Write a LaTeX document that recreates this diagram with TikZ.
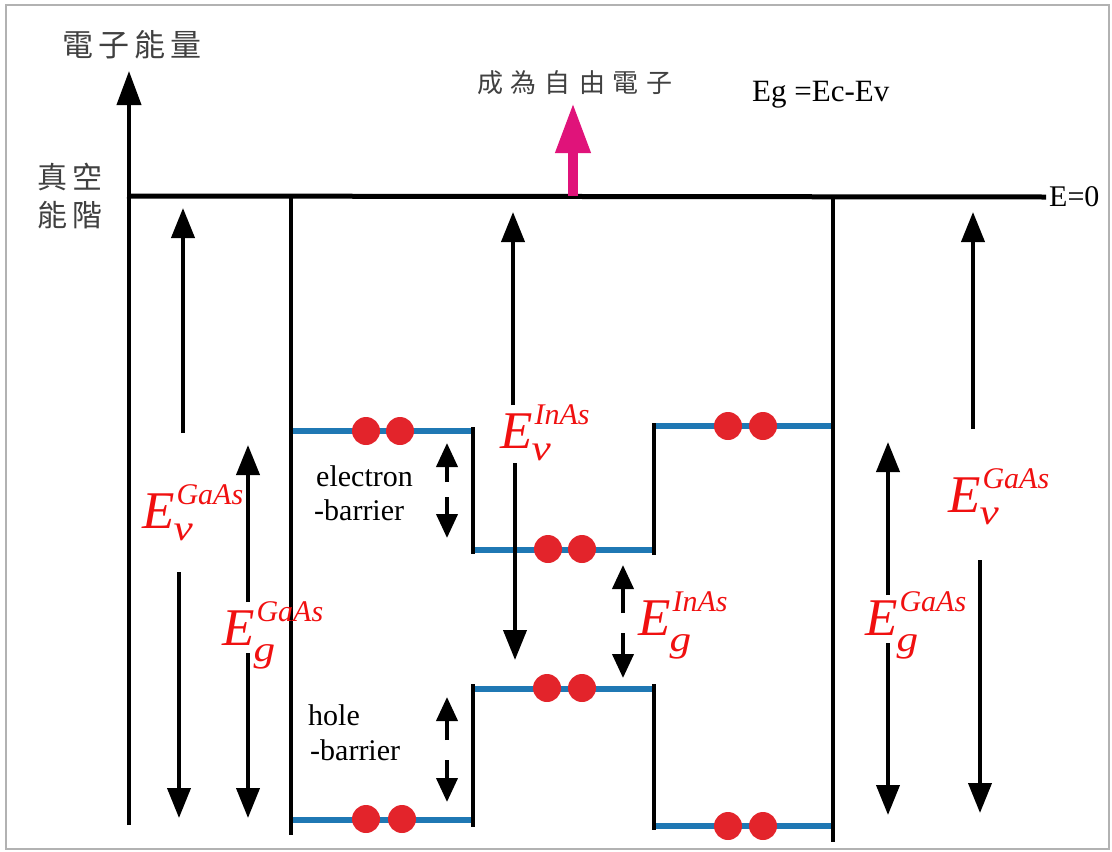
\documentclass[tikz,border=0pt]{standalone}
\usepackage{fontspec}
\usepackage{graphicx}
\setmainfont{Liberation Serif}
\newfontfamily\cjk{Noto Sans CJK TC}
\usetikzlibrary{arrows.meta}
\definecolor{lvlblue}{HTML}{1F78B4}
\definecolor{dotred}{HTML}{E3242B}
\definecolor{lblred}{HTML}{F01010}
\definecolor{pinkarr}{HTML}{E0137A}
\newcommand{\Elab}[3]{%
 {\fontsize{53}{53}\selectfont E}%
 \rlap{\kern-1pt\raisebox{-#1pt}{\fontsize{36}{36}\selectfont\scalebox{1.2}[1]{#2}}}%
 \kern2pt\raisebox{24pt}{\fontsize{30}{30}\selectfont #3}}
\tikzset{
  elab/.style={inner sep=0pt, anchor=base west, text=lblred, font=\itshape},
  btext/.style={inner sep=0pt, anchor=base west, font=\fontsize{30}{30}\selectfont},
  cjktext/.style={inner sep=0pt, text=black!75},
  bigarr/.style={line width=4pt, -{Triangle[length=30pt,width=23pt]}},
  smallarr/.style={line width=4pt, -{Triangle[length=24pt,width=21pt]}},
  wall/.style={line width=4pt},
  level/.style={line width=6pt, lvlblue},
  dot/.style={circle, fill=dotred, minimum size=28pt, inner sep=0pt}
}
\begin{document}
\begin{tikzpicture}[x=1pt,y=-1pt]
\useasboundingbox (0,0) rectangle (1112,852);
\draw[gray!60, line width=1.5pt] (6,5) rectangle (1109,849);

% axis
\coordinate (ax0) at (129,825);
\coordinate (axtop) at (129,71);
\draw[line width=4pt, -{Triangle[length=34pt,width=24pt]}] (ax0) -- (axtop);
\node[cjktext, font=\cjk\fontsize{31}{31}\selectfont] (ylab) at (132,45) {電\kern5pt子\kern5pt能\kern5pt量};
\node[cjktext, font=\cjk\fontsize{30}{30}\selectfont] (vac1) at (70,177) {真\kern6pt空};
\node[cjktext, font=\cjk\fontsize{30}{30}\selectfont] (vac2) at (70,215) {能\kern6pt階};

% vacuum level
\coordinate (v0) at (127,196);
\node[inner sep=0pt, anchor=west, font=\fontsize{30}{30}\selectfont] (ezero) at (1049,197) {E=0};
\draw[line width=5pt] (v0) -- ([xshift=-3pt]ezero.west);

% free electron
\node[cjktext, font=\cjk\fontsize{26}{26}\selectfont] (free) at (575,83) {成\kern8pt為\kern8pt自\kern8pt由\kern8pt電\kern8pt子};
\coordinate (p0) at (573,196);
\coordinate (p1) at (573,103);
\draw[line width=10pt, pinkarr, -{Triangle[length=50pt,width=33pt]}] (p0) -- (p1);
\node[inner sep=0pt, anchor=base west, font=\fontsize{31}{31}\selectfont] (egdef) at (752,101) {Eg =Ec-Ev};

% walls
\coordinate (wL0) at (291,196); \coordinate (wL1) at (291,835);
\coordinate (wR0) at (833,196); \coordinate (wR1) at (833,842);
\draw[wall] (wL0) -- (wL1);
\draw[wall] (wR0) -- (wR1);
\coordinate (m1a) at (473,427); \coordinate (m1b) at (473,554);
\coordinate (m2a) at (654,423); \coordinate (m2b) at (654,555);
\coordinate (m3a) at (473,684); \coordinate (m3b) at (473,827);
\coordinate (m4a) at (654,684); \coordinate (m4b) at (654,830);
\draw[wall] (m1a) -- (m1b);
\draw[wall] (m2a) -- (m2b);
\draw[wall] (m3a) -- (m3b);
\draw[wall] (m4a) -- (m4b);

% levels
\coordinate (l1a) at (293,431); \coordinate (l1b) at (471,431);
\coordinate (l2a) at (475,550); \coordinate (l2b) at (652,550);
\coordinate (l3a) at (656,426); \coordinate (l3b) at (831,426);
\coordinate (l4a) at (475,689); \coordinate (l4b) at (652,689);
\coordinate (l5a) at (293,820); \coordinate (l5b) at (471,820);
\coordinate (l6a) at (656,826); \coordinate (l6b) at (831,826);
\draw[level] (l1a) -- (l1b);
\draw[level] (l2a) -- (l2b);
\draw[level] (l3a) -- (l3b);
\draw[level] (l4a) -- (l4b);
\draw[level] (l5a) -- (l5b);
\draw[level] (l6a) -- (l6b);

% dots
\node[dot] (d1) at (366,431) {}; \node[dot] (d2) at (400,431) {};
\node[dot] (d3) at (548,549) {}; \node[dot] (d4) at (582,549) {};
\node[dot] (d5) at (728,426) {}; \node[dot] (d6) at (763,426) {};
\node[dot] (d7) at (547,688) {}; \node[dot] (d8) at (582,688) {};
\node[dot] (d9) at (366,819) {}; \node[dot] (d10) at (402,819) {};
\node[dot] (d11) at (728,826) {}; \node[dot] (d12) at (763,826) {};

% red labels
\node[elab] (evL) at (142,528) {\Elab{12}{v}{GaAs}};
\node[elab] (egL) at (222,645) {\Elab{16}{g}{GaAs}};
\node[elab] (evM) at (500,448) {\Elab{12}{v}{InAs}};
\node[elab] (egM) at (638,635) {\Elab{16}{g}{InAs}};
\node[elab] (egR) at (865,635) {\Elab{16}{g}{GaAs}};
\node[elab] (evR) at (948,512) {\Elab{12}{v}{GaAs}};

% black labels
\node[btext] (eb1) at (316,486) {electron};
\node[btext] (eb2) at (314,520) {-barrier};
\node[btext] (hb1) at (308,725) {hole};
\node[btext] (hb2) at (310,760) {-barrier};

% arrows
\coordinate (evLu0) at (183,433); \coordinate (evLu1) at (183,208);
\coordinate (evLd0) at (179,572); \coordinate (evLd1) at (179,818);
\draw[bigarr] (evLu0) -- (evLu1);
\draw[bigarr] (evLd0) -- (evLd1);
\coordinate (egLu0) at (248,602); \coordinate (egLu1) at (248,445);
\coordinate (egLd0) at (248,653); \coordinate (egLd1) at (248,818);
\draw[bigarr] (egLu0) -- (egLu1);
\draw[bigarr] (egLd0) -- (egLd1);
\coordinate (ebu0) at (447,482); \coordinate (ebu1) at (447,443);
\coordinate (ebd0) at (447,497); \coordinate (ebd1) at (447,538);
\draw[smallarr] (ebu0) -- (ebu1);
\draw[smallarr] (ebd0) -- (ebd1);
\coordinate (evMu0) at (513,405); \coordinate (evMu1) at (513,212);
\coordinate (evMd0) at (515,463); \coordinate (evMd1) at (515,660);
\draw[bigarr] (evMu0) -- (evMu1);
\draw[bigarr] (evMd0) -- (evMd1);
\coordinate (egMu0) at (623,613); \coordinate (egMu1) at (623,565);
\coordinate (egMd0) at (623,633); \coordinate (egMd1) at (623,678);
\draw[smallarr] (egMu0) -- (egMu1);
\draw[smallarr] (egMd0) -- (egMd1);
\coordinate (hbu0) at (447,740); \coordinate (hbu1) at (447,697);
\coordinate (hbd0) at (447,760); \coordinate (hbd1) at (447,802);
\draw[smallarr] (hbu0) -- (hbu1);
\draw[smallarr] (hbd0) -- (hbd1);
\coordinate (egRu0) at (888,595); \coordinate (egRu1) at (888,442);
\coordinate (egRd0) at (888,643); \coordinate (egRd1) at (888,815);
\draw[bigarr] (egRu0) -- (egRu1);
\draw[bigarr] (egRd0) -- (egRd1);
\coordinate (evRu0) at (973,429); \coordinate (evRu1) at (973,212);
\coordinate (evRd0) at (980,560); \coordinate (evRd1) at (980,813);
\draw[bigarr] (evRu0) -- (evRu1);
\draw[bigarr] (evRd0) -- (evRd1);
\end{tikzpicture}
\end{document}
